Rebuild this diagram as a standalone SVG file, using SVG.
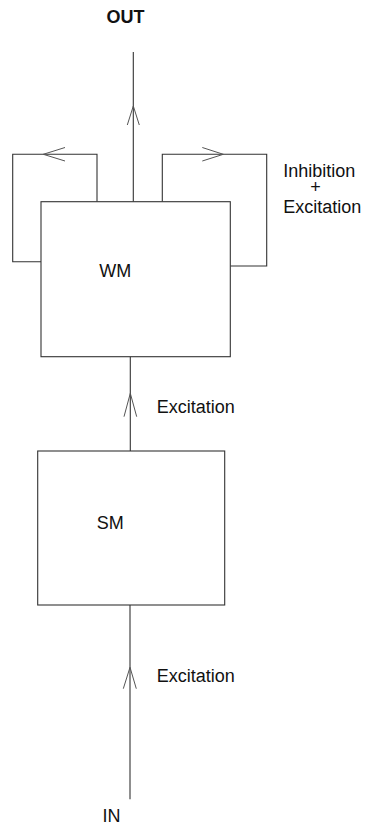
<svg xmlns="http://www.w3.org/2000/svg" width="365" height="825" viewBox="0 0 365 825">
  <style>
    .box { fill: #fff; stroke: #333; stroke-width: 1.1; }
    .wire { fill: none; stroke: #333; stroke-width: 1.1; }
    .head { fill: none; stroke: #555; stroke-width: 1; }
    .lbl { font-family: "Liberation Sans", Arial, sans-serif; font-size: 18px; fill: #111; }
    .bold { font-weight: bold; }
  </style>
  <rect width="365" height="825" fill="#fff"/>

  <g id="connectors">
    <!-- output line from WM -->
    <line class="wire" x1="133.3" y1="52" x2="133.3" y2="201.7"/>
    <polyline class="head" points="127.3,125 133.3,106 139.3,125"/>
    <!-- left self-loop -->
    <polyline class="wire" points="97,201.7 97,154.3 12.7,154.3 12.7,261.7 41,261.7"/>
    <polyline class="head" points="65,147.5 43.3,154.3 65,161"/>
    <!-- right self-loop -->
    <polyline class="wire" points="162.3,201.7 162.3,154.3 266.7,154.3 266.7,266 230.3,266"/>
    <polyline class="head" points="202.3,147.5 223.3,154.3 202.3,161"/>
    <!-- SM to WM -->
    <line class="wire" x1="130.3" y1="356.7" x2="130.3" y2="451"/>
    <polyline class="head" points="124,416.7 130.3,393.3 136.7,416.7"/>
    <!-- IN to SM -->
    <line class="wire" x1="130" y1="605" x2="130" y2="799.3"/>
    <polyline class="head" points="123.3,688.7 130,667.3 136.3,688.7"/>
  </g>

  <g id="wm">
    <rect class="box" x="41" y="201.7" width="189.3" height="155"/>
    <text class="lbl" x="99.3" y="276.7">WM</text>
  </g>

  <g id="sm">
    <rect class="box" x="37.7" y="451" width="187" height="154"/>
    <text class="lbl" x="96.7" y="529.3">SM</text>
  </g>

  <g id="labels">
    <text class="lbl bold" x="125.5" y="23.3" text-anchor="middle">OUT</text>
    <text class="lbl" x="283.3" y="176.7">Inhibition</text>
    <text class="lbl" x="315.5" y="193" text-anchor="middle">+</text>
    <text class="lbl" x="283.3" y="212.7">Excitation</text>
    <text class="lbl" x="156.7" y="412.7">Excitation</text>
    <text class="lbl" x="156.7" y="681.7">Excitation</text>
    <text class="lbl" x="102.5" y="821.5">IN</text>
  </g>
</svg>
